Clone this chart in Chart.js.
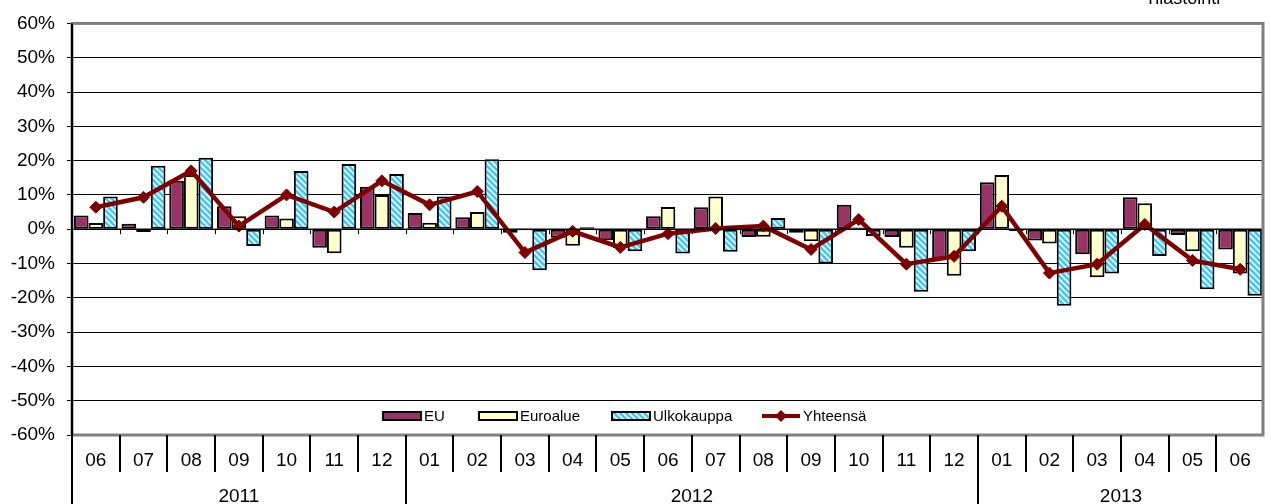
<!DOCTYPE html>
<html>
<head>
<meta charset="utf-8">
<script src="https://cdn.jsdelivr.net/npm/chart.js@4.4.0/dist/chart.umd.min.js"></script>
<style>
  html, body { margin: 0; padding: 0; background: #fff; }
  #wrap { position: relative; width: 1271px; height: 504px; }
</style>
</head>
<body>
<div id="wrap"><canvas id="chart" width="1271" height="504"></canvas></div>
<script>
const MONTHS = ['06','07','08','09','10','11','12','01','02','03','04','05','06','07','08','09','10','11','12','01','02','03','04','05','06'];
const YEARS      = ['2011', '2012', '2013'];
const YEAR_SPANS = [7, 12, 6];

const EU    = [4.0, 1.6, 14.1, 6.7, 4.0, -5.4, 12.4, 4.7, 3.5, -1.0, -2.5, -3.2, 3.8, 6.4, -2.3, -1.0, 7.1, -2.3, -8.7, 13.7, -3.3, -7.3, 9.3, -1.7, -5.9];
const EURO  = [1.8, -0.8, 15.8, 3.8, 3.1, -7.0, 10.0, 1.9, 5.0, -0.3, -4.8, -5.5, 6.5, 9.5, -2.2, -3.5, 0.5, -5.4, -13.6, 15.8, -4.2, -14.0, 7.6, -6.4, -12.9];
const ULKO  = [9.5, 18.5, 20.8, -4.9, 17.0, 19.0, 16.1, 9.5, 20.4, -12.0, 0.6, -6.4, -7.1, -6.6, 3.3, -10.0, -2.0, -18.2, -6.4, -0.5, -22.3, -12.9, -7.8, -17.5, -19.4];
const TOTAL = [6.4, 9.3, 17.0, 0.9, 10.0, 5.0, 14.1, 7.1, 11.0, -6.8, -0.6, -5.3, -1.3, 0.2, 0.9, -5.9, 2.8, -10.2, -7.9, 6.7, -12.8, -10.2, 1.4, -9.1, -11.7];

const FONT = "'Liberation Sans', Arial, sans-serif";
const C_EU   = '#993366';
const C_EURO = '#FFFFCC';
const C_LINE = '#800000';

function makeHatch() {
  const c = document.createElement('canvas');
  c.width = 6; c.height = 6;
  const g = c.getContext('2d');
  g.fillStyle = '#33CCFF';
  g.fillRect(0, 0, 6, 6);
  g.strokeStyle = '#ffffff';
  g.lineWidth = 1.6;
  g.beginPath();
  g.moveTo(-1, -1); g.lineTo(7, 7);
  g.moveTo(-4, 2); g.lineTo(4, 10);
  g.moveTo(2, -4); g.lineTo(10, 4);
  g.stroke();
  return g.createPattern(c, 'repeat');
}
const hatch = makeHatch();

// frame, category separators, year row, legend, note
const decor = {
  id: 'decor',
  afterDraw(chart) {
    const { ctx, chartArea: a, scales: { x, y } } = chart;
    const step = x.getPixelForValue(1) - x.getPixelForValue(0);
    const y0 = y.getPixelForValue(0);
    ctx.save();

    // small ticks on the zero line
    ctx.strokeStyle = '#000';
    ctx.lineWidth = 1;
    for (let i = 1; i < MONTHS.length; i++) {
      const px = Math.round(a.left + i * step) + 0.5;
      ctx.beginPath(); ctx.moveTo(px, y0); ctx.lineTo(px, y0 + 5); ctx.stroke();
    }
    ctx.lineWidth = 1.5;
    ctx.beginPath(); ctx.moveTo(a.left, y0); ctx.lineTo(a.right, y0); ctx.stroke();

    // plot frame
    ctx.strokeStyle = '#808080';
    ctx.lineWidth = 3;
    ctx.strokeRect(a.left, a.top, a.right - a.left - 1, a.bottom - a.top);
    ctx.strokeStyle = '#000';
    ctx.lineWidth = 2;
    ctx.beginPath(); ctx.moveTo(a.left, a.top); ctx.lineTo(a.left, a.bottom); ctx.stroke();

    // month separators
    ctx.lineWidth = 2;
    for (let i = 1; i < MONTHS.length; i++) {
      const px = Math.round(a.left + i * step);
      ctx.beginPath(); ctx.moveTo(px, a.bottom); ctx.lineTo(px, a.bottom + 37); ctx.stroke();
    }
    // year separators and labels
    ctx.font = '19px ' + FONT;
    ctx.fillStyle = '#000';
    ctx.textAlign = 'center';
    ctx.textBaseline = 'middle';
    let start = 0;
    YEARS.forEach((yr, k) => {
      const end = start + YEAR_SPANS[k];
      const x1 = a.left + start * step;
      const x2 = a.left + end * step;
      ctx.lineWidth = 2;
      ctx.beginPath(); ctx.moveTo(Math.round(x1), a.bottom); ctx.lineTo(Math.round(x1), 504); ctx.stroke();
      ctx.fillText(yr, (x1 + Math.min(x2, a.right)) / 2, 497);
      start = end;
    });

    // legend
    const ly = 416;
    ctx.font = '15px ' + FONT;
    ctx.textAlign = 'left';
    const boxes = [
      { x: 383, fill: C_EU, label: 'EU' },
      { x: 479, fill: C_EURO, label: 'Euroalue' },
      { x: 612, fill: hatch, label: 'Ulkokauppa' },
    ];
    boxes.forEach((b) => {
      ctx.fillStyle = b.fill;
      ctx.fillRect(b.x, ly - 4, 38, 8);
      ctx.strokeStyle = '#000';
      ctx.lineWidth = 2;
      ctx.strokeRect(b.x, ly - 4, 38, 8);
      ctx.fillStyle = '#000';
      ctx.fillText(b.label, b.x + 41, ly + 1);
    });
    ctx.strokeStyle = C_LINE;
    ctx.lineWidth = 4;
    ctx.beginPath(); ctx.moveTo(762, ly); ctx.lineTo(800, ly); ctx.stroke();
    ctx.fillStyle = C_LINE;
    ctx.beginPath();
    ctx.moveTo(781, ly - 6); ctx.lineTo(787, ly); ctx.lineTo(781, ly + 6); ctx.lineTo(775, ly);
    ctx.closePath(); ctx.fill();
    ctx.fillStyle = '#000';
    ctx.fillText('Yhteensä', 803, ly + 1);

    // note top right (cut off)
    ctx.font = '18px ' + FONT;
    ctx.textBaseline = 'alphabetic';
    ctx.fillText('Tilastointi', 1145, 4);
    ctx.restore();
  }
};

new Chart(document.getElementById('chart').getContext('2d'), {
  type: 'bar',
  data: {
    labels: MONTHS,
    datasets: [
      {
        type: 'line', label: 'Yhteensä', data: TOTAL, order: 0,
        borderColor: C_LINE, backgroundColor: C_LINE, borderWidth: 4.5,
        pointStyle: 'rectRot', pointRadius: 6, pointBackgroundColor: C_LINE,
        pointBorderColor: C_LINE, pointBorderWidth: 1, tension: 0,
      },
      { label: 'EU', data: EU, order: 1, backgroundColor: C_EU, borderColor: '#000', borderWidth: 2, borderSkipped: false },
      { label: 'Euroalue', data: EURO, order: 1, backgroundColor: C_EURO, borderColor: '#000', borderWidth: 2, borderSkipped: false },
      { label: 'Ulkokauppa', data: ULKO, order: 1, backgroundColor: hatch, borderColor: '#000', borderWidth: 2, borderSkipped: false },
    ],
  },
  options: {
    responsive: false,
    animation: false,
    layout: { padding: { top: 20, right: 1, left: 0, bottom: 0 } },
    datasets: { bar: { categoryPercentage: 0.92, barPercentage: 1.0 } },
    plugins: { legend: { display: false }, tooltip: { enabled: false } },
    scales: {
      x: {
        grid: { display: false, drawTicks: false },
        border: { display: false },
        ticks: { color: '#000', font: { family: FONT, size: 19 }, padding: 14, maxRotation: 0, autoSkip: false },
        afterFit: (s) => { s.height = 69; },
      },
      y: {
        min: -60, max: 60,
        grid: { color: '#000', lineWidth: 1, tickLength: 5, tickColor: '#000' },
        border: { display: false },
        ticks: { stepSize: 10, color: '#000', font: { family: FONT, size: 19 }, padding: 12, callback: (v) => v + '%' },
        afterFit: (s) => { s.width = 72; },
      },
    },
  },
  plugins: [decor],
});
</script>
</body>
</html>
